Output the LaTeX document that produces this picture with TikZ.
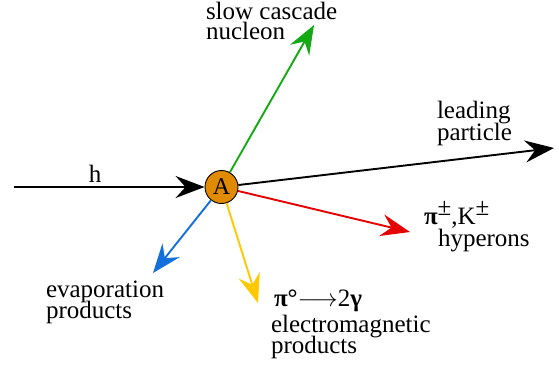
\documentclass[tikz,border=0pt]{standalone}
\usepackage{fontspec}
\setmainfont{Liberation Serif}
\usetikzlibrary{arrows.meta}
\definecolor{nucl}{RGB}{224,138,0}
\definecolor{cgreen}{RGB}{20,170,20}
\definecolor{cred}{RGB}{230,0,0}
\definecolor{cyellow}{RGB}{255,200,0}
\definecolor{cblue}{RGB}{20,110,220}
\newcommand{\suppm}{\raisebox{9pt}{±}}
\begin{document}
\begin{tikzpicture}[x=1pt,y=-1pt,
  ray/.style={line width=1.9pt,-{Stealth[length=29pt,width=22pt,inset=10pt]}},
  lbl/.style={inner sep=0pt,outer sep=0pt,anchor=base west,
    font=\fontsize{25}{21}\selectfont}]
\useasboundingbox (0,0) rectangle (559,370);
\node[circle,draw=black,line width=0.9pt,fill=nucl,minimum size=33pt,inner sep=0pt,
  font=\fontsize{24}{21}\selectfont] (A) at (221.5,187) {A};
\coordinate (h0) at (14,187);
\coordinate (tg) at (314,25);
\coordinate (tk) at (554,148);
\coordinate (tr) at (410,232);
\coordinate (ty) at (258,303);
\coordinate (tb) at (153,273);
\draw[ray,black] (h0) -- (A.west);
\draw[ray,cgreen] (A) -- (tg);
\draw[ray,black] (A) -- (tk);
\draw[ray,cred] (A) -- (tr);
\draw[ray,cyellow] (A) -- (ty);
\draw[ray,cblue] (A) -- (tb);
\node[lbl,anchor=base] (lh) at (95,182) {h};
\node[lbl] (lg1) at (206,19) {slow cascade};
\node[lbl] (lg2) at (206,39) {nucleon};
\node[lbl] (lk1) at (437,118) {leading};
\node[lbl] (lk2) at (437,140) {particle};
\node[lbl] (lr1) at (424,224) {{\bfseries π}\suppm,K\suppm};
\node[lbl] (lr2) at (438,246) {hyperons};
\node[lbl] (ly1) at (274,306) {{\bfseries π°}$\longrightarrow$2{\bfseries γ}};
\node[lbl] (ly2) at (271,332) {electromagnetic};
\node[lbl] (ly3) at (271,353) {products};
\node[lbl] (lb1) at (46,297) {evaporation};
\node[lbl] (lb2) at (46,318) {products};
\end{tikzpicture}
\end{document}
